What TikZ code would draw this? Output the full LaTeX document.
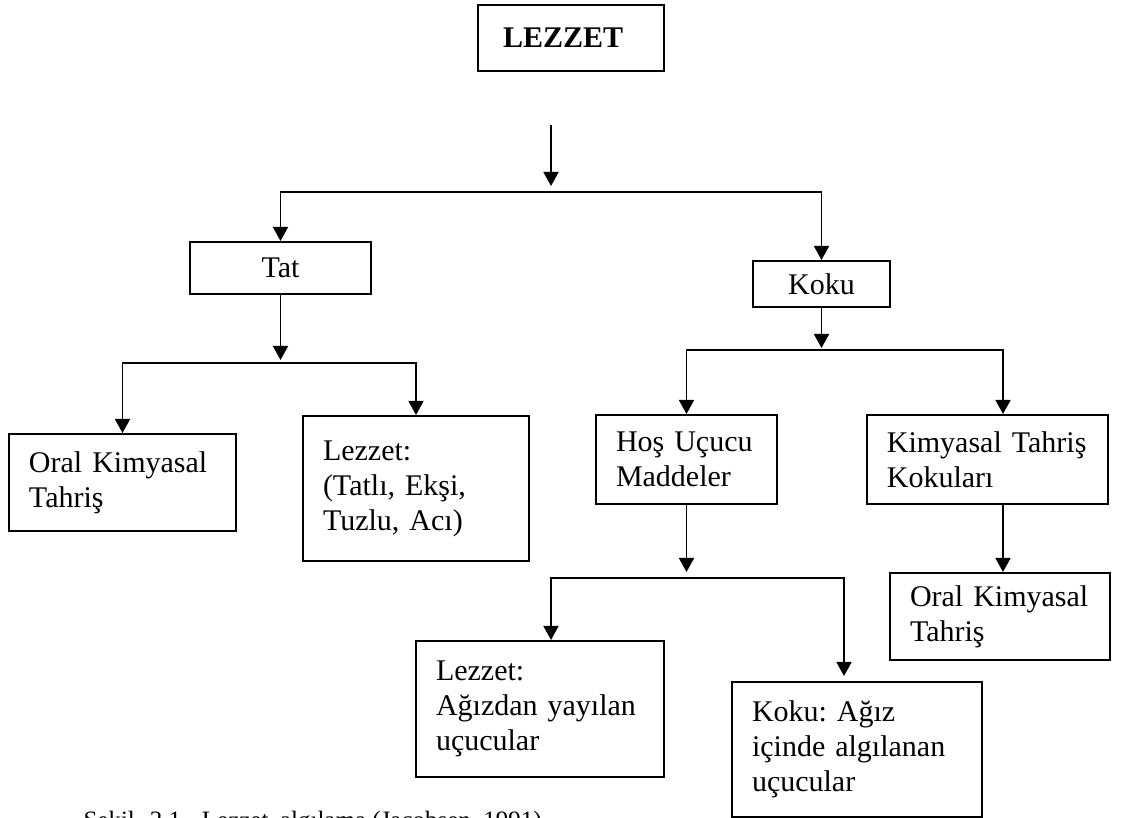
\documentclass[tikz,border=0pt]{standalone}
\usepackage{fontspec}
\setmainfont{Liberation Serif}
\usetikzlibrary{arrows.meta}
\frenchspacing

\tikzset{
	kutu/.style={draw, line width=0.8pt, inner ysep=0pt, font=\fontsize{12}{14}\selectfont},
	metin/.style 2 args={kutu, align=left, text width=#1, minimum height=#2, inner xsep=8pt},
	ok/.style={line width=0.65pt, -{Triangle[length=5.6pt,width=6pt]}}
}

\begin{document}
\begin{tikzpicture}[x=0.4pt, y=-0.4pt]
	\useasboundingbox (0,0) rectangle (1121,818);

	\node[metin={54.4pt}{26.4pt}, inner xsep=10pt, font=\bfseries\fontsize{12}{14}\selectfont] (lezzet) at (571,38) {LEZZET};

	\node[kutu, minimum width=72.4pt, minimum height=20.8pt] (tat) at (280.5,268) {Tat};
	\node[kutu, minimum width=54.8pt, minimum height=18.4pt] (koku) at (821.5,284) {Koku};

	\node[metin={74.8pt}{38.8pt}] (oral1) at (122.5,482.5) {Oral Kimyasal\\Tahriş};
	\node[metin={74.4pt}{58pt}] (tatlar) at (416,488.5) {Lezzet:\\(Tatlı, Ekşi,\\Tuzlu, Acı)};
	\node[metin={56.4pt}{35.6pt}] (hos) at (686.5,459.5) {Hoş Uçucu\\Maddeler};
	\node[metin={80.5pt}{35.6pt}] (kimyasal) at (987.5,459.5) {Kimyasal Tahriş\\Kokuları};
	\node[metin={72pt}{34.8pt}] (oral2) at (1000,616.5) {Oral Kimyasal\\Tahriş};
	\node[metin={83.2pt}{54.4pt}] (agizdan) at (540,709) {Lezzet:\\Ağızdan yayılan\\uçucular};
	\node[metin={84pt}{54pt}] (agizici) at (857,749.5) {Koku: Ağız\\içinde algılanan\\uçucular};

	\node[anchor=base west, inner sep=0pt, font=\fontsize{10}{12}\selectfont] (sekil) at (83,828.5) {Şekil\hspace{6pt}2.1.\hspace{5.8pt}Lezzet\hspace{4.6pt}algılama (Jacobsen, 1991)};

	\coordinate (c0) at (551,125);
	\coordinate (c1) at (551,192);
	\coordinate (c2) at (280.5,363);
	\coordinate (c3) at (821.5,350);
	\coordinate (c4) at (686.5,578);
	\coordinate (d3) at (1003,0);
	\coordinate (d4) at (551,0);
	\coordinate (d5) at (844,0);

	\draw[ok, shorten >=2.4pt] (c0) -- (c1);
	\draw[ok] (c1) -| (tat);
	\draw[ok] (c1) -| (koku);

	\draw[ok, shorten >=1.2pt] (tat) -- (c2);
	\draw[ok] (c2) -| (oral1);
	\draw[ok] (c2) -| (tatlar);

	\draw[ok, shorten >=0.8pt] (koku) -- (c3);
	\draw[ok] (c3) -| (hos);
	\draw[ok] (c3) -| (kimyasal.north -| d3);
	\draw[ok] (kimyasal.south -| d3) -- (oral2.north -| d3);

	\draw[ok, shorten >=2.4pt] (hos) -- (c4);
	\draw[ok] (c4) -| (agizdan.north -| d4);
	\draw[ok, shorten >=2pt] (c4) -| (agizici.north -| d5);
\end{tikzpicture}
\end{document}
